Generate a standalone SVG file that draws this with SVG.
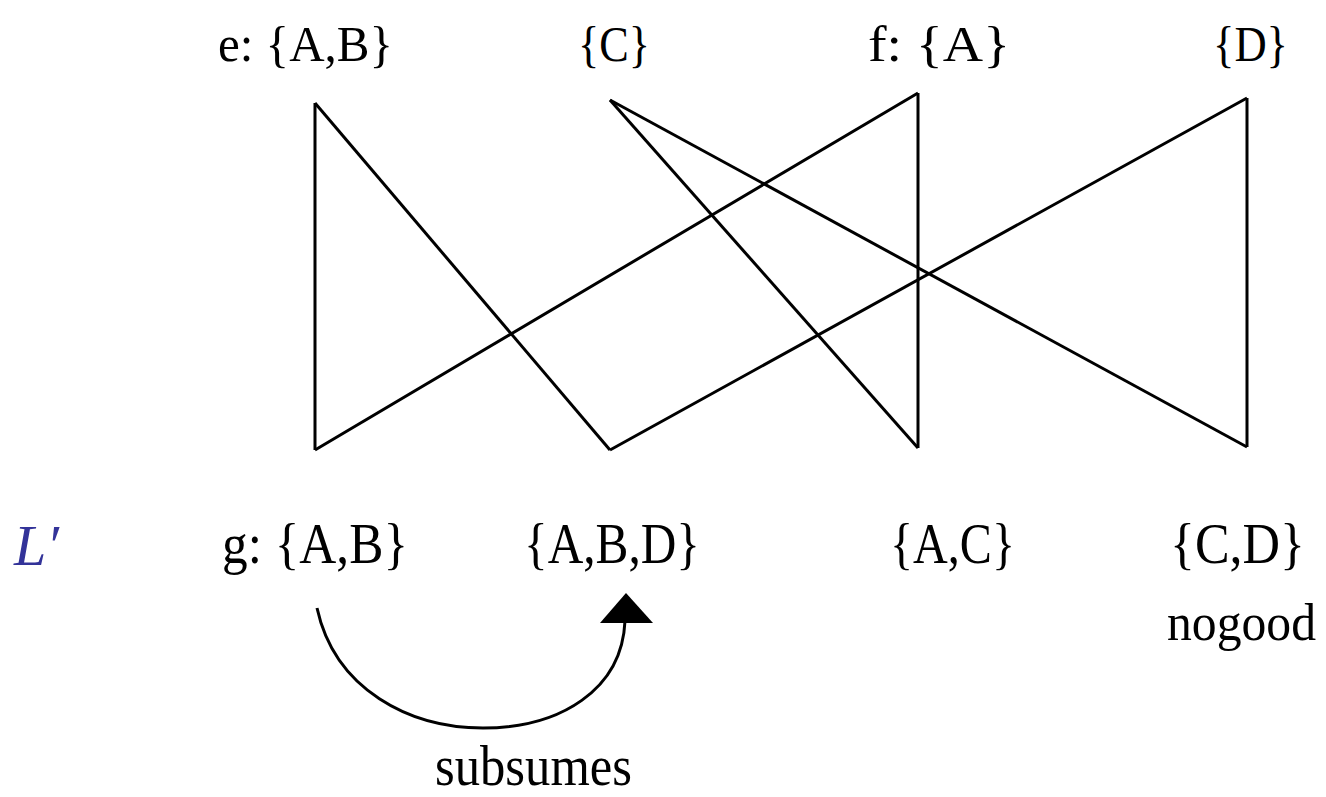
<svg xmlns="http://www.w3.org/2000/svg" width="1326" height="797" viewBox="0 0 1326 797">
<style>
.t{font-family:"Liberation Serif","Times New Roman",serif;font-size:51px;fill:#000}
.b{font-family:"Liberation Serif","Times New Roman",serif;font-size:58px;fill:#000}
.e{stroke:#000;stroke-width:3;fill:none}
</style>
<rect width="1326" height="797" fill="#fff"/>
<g id="connectors">
<line class="e" x1="315" y1="103" x2="315" y2="450"/>
<line class="e" x1="315" y1="103" x2="610" y2="450"/>
<line class="e" x1="918" y1="93" x2="315" y2="450"/>
<line class="e" x1="918" y1="93" x2="918" y2="448"/>
<line class="e" x1="610" y1="100" x2="918" y2="448"/>
<line class="e" x1="610" y1="100" x2="1247" y2="447"/>
<line class="e" x1="1247" y1="98" x2="610" y2="450"/>
<line class="e" x1="1247" y1="98" x2="1247" y2="447"/>
<path class="e" d="M317,608 C335,690 410,728 483,728 C560,728 622,690 625,621"/>
<polygon points="626,593 600,623 653,623" fill="#000"/>
</g>
<g id="e"><text class="t" x="218" y="61" textLength="175" lengthAdjust="spacingAndGlyphs">e: {A,B}</text></g>
<g id="c"><text class="t" x="578" y="61" textLength="72" lengthAdjust="spacingAndGlyphs">{C}</text></g>
<g id="f"><text class="t" x="868" y="61" textLength="142" lengthAdjust="spacingAndGlyphs">f: {A}</text></g>
<g id="d"><text class="t" x="1213" y="61" textLength="75" lengthAdjust="spacingAndGlyphs">{D}</text></g>
<g id="lprime"><text x="14" y="565" font-family="Liberation Serif,serif" font-style="italic" font-size="58" fill="#333399">L′</text></g>
<g id="g"><text class="b" x="222" y="563" textLength="186" lengthAdjust="spacingAndGlyphs">g: {A,B}</text></g>
<g id="abd"><text class="b" x="524" y="563" textLength="176" lengthAdjust="spacingAndGlyphs">{A,B,D}</text></g>
<g id="ac"><text class="b" x="890" y="563" textLength="125" lengthAdjust="spacingAndGlyphs">{A,C}</text></g>
<g id="cd"><text class="b" x="1170" y="563" textLength="135" lengthAdjust="spacingAndGlyphs">{C,D}</text>
<text x="1167" y="640" font-family="Liberation Serif,serif" font-size="52" textLength="149" lengthAdjust="spacingAndGlyphs">nogood</text></g>
<g id="subsumes"><text class="b" x="435" y="785" textLength="197" lengthAdjust="spacingAndGlyphs">subsumes</text></g>
</svg>
